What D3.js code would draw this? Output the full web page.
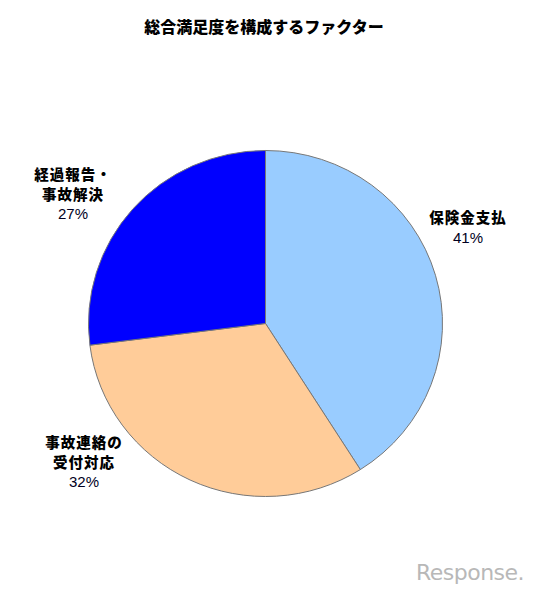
<!DOCTYPE html>
<html>
<head>
<meta charset="utf-8">
<script src="https://cdn.jsdelivr.net/npm/d3@7"></script>
<style>
  body { margin: 0; background: #fff; }
  svg { display: block; }
</style>
</head>
<body>
<svg id="chart" width="539" height="593"></svg>
<script>
// data
var categories = ['保険金支払', '事故連絡の受付対応', '経過報告・事故解決'];
var values = [41, 32, 27];
var labelLines = [['保険金支払'], ['事故連絡の', '受付対応'], ['経過報告・', '事故解決']];
var colors = ['#99ccff', '#ffcc99', '#0000ff'];
var title = '総合満足度を構成するファクター';

var svg = d3.select('#chart');
var cx = 265.5, cy = 323.5, r = 177;

svg.append('text')
  .attr('x', 264).attr('y', 33)
  .attr('text-anchor', 'middle')
  .style('font-family', '"Noto Sans CJK JP", sans-serif')
  .style('font-weight', '900')
  .style('font-size', '16px')
  .text(title);

var pie = d3.pie().sort(null).value(function(d) { return d; });
var arc = d3.arc().innerRadius(0).outerRadius(r);
var arcs = pie(values);

// picture is slightly squashed vertically
var g = svg.append('g')
  .attr('transform', 'translate(' + cx + ',' + cy + ') scale(1,' + (173 / 177) + ')');

g.selectAll('path')
  .data(arcs)
  .enter().append('path')
  .attr('d', arc)
  .attr('fill', function(d, i) { return colors[i]; })
  .attr('stroke', '#777')
  .attr('stroke-width', 1)
  .attr('vector-effect', 'non-scaling-stroke');

// label spots, outside the pie
var labelPos = [[468, 218], [84, 443], [73, 175]];

arcs.forEach(function(d, i) {
  var t = svg.append('text')
    .attr('text-anchor', 'middle')
    .style('font-family', '"Noto Sans CJK JP", sans-serif');
  var lines = labelLines[i];
  lines.forEach(function(line, j) {
    t.append('tspan')
      .attr('x', labelPos[i][0])
      .attr('y', labelPos[i][1] + j * 19.5 + 5)
      .style('font-weight', '900')
      .style('font-size', '14.5px')
      .style('letter-spacing', '1px')
      .text(line);
  });
  t.append('tspan')
    .attr('x', labelPos[i][0])
    .attr('y', labelPos[i][1] + lines.length * 19.5 + 5)
    .style('font-family', '"Liberation Sans", Arial, sans-serif')
    .style('font-size', '15px')
    .attr('fill', '#000022')
    .text(values[i] + '%');
});

// watermark
svg.append('text')
  .attr('x', 470).attr('y', 580)
  .attr('text-anchor', 'middle')
  .style('font-family', '"DejaVu Sans", sans-serif')
  .style('font-size', '22px')
  .attr('fill', '#b8b8b8')
  .attr('letter-spacing', '-0.5')
  .text('Response.');
</script>
</body>
</html>
